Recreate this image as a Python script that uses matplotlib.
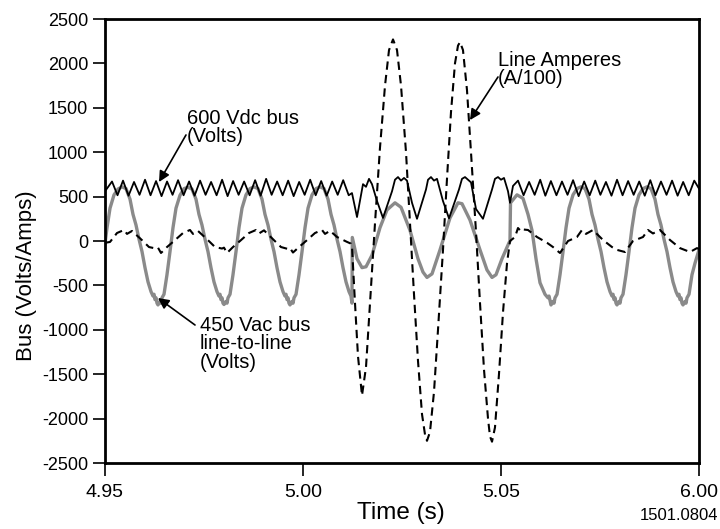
import matplotlib
matplotlib.use("Agg")
import matplotlib.pyplot as plt
import numpy as np

plt.rcParams['font.family'] = ['Liberation Sans', 'DejaVu Sans']

T0 = 4.95  # s, start of record; times below are ms after T0

# 600 Vdc bus (Volts)
dc_ms = [0.0, 1.77, 3.16, 4.55, 5.94, 7.33, 8.72, 10.11, 11.50, 12.89, 14.28, 15.67, 17.06, 18.45, 19.84,
         21.23, 22.62, 24.01, 25.40, 26.79, 28.18, 29.57, 30.96, 32.35, 33.74, 35.13, 36.52, 37.91, 39.30,
         40.69, 42.08, 43.47, 44.86, 46.25, 47.64, 49.03, 50.42, 51.81, 53.20, 54.59, 55.98, 57.37, 58.76,
         60.15, 61.54,
         62.37, 63.64, 65.15, 65.91, 66.67, 67.42, 68.69, 70.20, 72.48, 73.23, 73.99, 74.75, 75.51, 76.26,
         77.53, 78.79, 81.06, 81.57, 82.32, 83.08, 83.84, 85.35, 86.87, 89.39, 90.15, 90.91, 91.67, 92.42,
         93.69, 95.45, 97.73, 98.48, 99.24, 100.00, 100.76, 101.77, 102.27, 103.03,
         104.3, 105.7, 107.1, 108.5, 109.9, 111.2, 112.6, 114.0, 115.4, 116.8, 118.2, 119.6, 121.0, 122.4,
         123.8, 125.1, 126.5, 127.9, 129.3, 130.7, 132.1, 133.5, 134.9, 136.3, 137.7, 139.0, 140.4, 141.8,
         143.2, 144.6, 146.0, 147.4, 148.8, 150.0]
dc_v = [560, 670, 515, 680, 510, 665, 520, 690, 515, 675, 505, 670, 520, 685, 515,
        670, 510, 680, 520, 665, 515, 690, 505, 675, 520, 670, 515, 685, 510,
        700, 520, 670, 515, 680, 505, 665, 520, 690, 515, 675, 510, 670, 520,
        685, 515,
        540, 270, 640, 610, 700, 640, 450, 260, 560, 690, 720, 680, 710, 680,
        430, 250, 580, 690, 720, 680, 700, 450, 255, 580, 700, 720, 690, 660,
        360, 250, 580, 700, 720, 690, 710, 560, 430, 620,
        680, 515, 665, 520, 690, 510, 675, 515, 670, 520, 685, 505, 670, 515,
        680, 520, 665, 510, 690, 515, 675, 520, 670, 510, 685, 515, 670, 520,
        680, 510, 665, 515, 680, 590]

# 450 Vac bus line-to-line (Volts)
ac_ms = [0.00, 0.51, 1.27, 2.28, 3.29, 4.30, 5.31, 6.32, 7.07, 7.83, 8.59, 9.35, 10.10, 10.86, 11.62, 12.12,
         12.38, 12.63, 12.88, 13.13,
         13.38, 13.89, 14.14, 14.39, 14.90, 15.65, 16.41, 17.17, 17.93, 18.94, 19.95, 20.96, 21.97, 22.98,
         23.73, 24.49, 25.25, 26.01, 26.76, 27.52, 28.28, 28.78, 29.04, 29.29, 29.54, 29.79,
         30.05, 30.56, 30.81, 31.06, 31.57, 32.32, 33.08, 33.84, 34.60, 35.61, 36.62, 37.63, 38.64, 39.65,
         40.40, 41.16, 41.92, 42.68, 43.43, 44.19, 44.95, 45.45, 45.71, 45.96, 46.21, 46.46,
         46.72, 47.23, 47.48, 47.73, 48.24, 48.99, 49.75, 50.51, 51.27, 52.28, 53.29, 54.30, 55.31, 56.32,
         57.07, 57.83, 58.59, 59.35, 60.10, 60.86, 61.62, 62.12, 62.37,
         62.45, 63.64, 64.90, 65.91, 67.42, 69.44, 71.21, 73.23, 74.75, 77.02, 79.04, 80.30, 81.31, 82.58,
         84.60, 87.12, 89.14, 90.15, 92.17, 94.70, 96.46, 97.73, 98.74, 100.25, 102.02, 102.27, 102.40,
         104.04, 105.56, 106.82, 107.83, 108.84, 109.85, 111.11, 111.87, 112.12,
         112.63, 113.14, 113.39, 113.64, 114.15, 114.90, 115.66, 116.42, 117.18, 118.19, 119.20, 120.21,
         121.22, 122.23, 122.98, 123.74, 124.50, 125.26, 126.01, 126.77, 127.53, 128.03, 128.29, 128.54,
         128.79, 129.04,
         129.29, 129.80, 130.05, 130.30, 130.81, 131.56, 132.32, 133.08, 133.84, 134.85, 135.86, 136.87,
         137.88, 138.89, 139.64, 140.40, 141.16, 141.92, 142.67, 143.43, 144.19, 144.69, 144.95, 145.20,
         145.45, 145.70,
         145.96, 146.47, 146.72, 146.97, 147.48, 148.23, 148.99, 150.00]
ac_v = [-30, 150, 370, 520, 585, 610, 590, 470, 300, 180, 20, -120, -300, -460, -570, -620,
        -600, -660, -640, -700,
        -720, -680, -700, -640, -600, -380, -120, 150, 370, 515, 590, 605, 585, 470,
        300, 180, 20, -120, -300, -460, -570, -620, -600, -660, -640, -700,
        -715, -680, -700, -640, -600, -380, -120, 150, 370, 520, 590, 610, 590, 470,
        300, 180, 20, -120, -300, -460, -570, -620, -600, -660, -640, -700,
        -720, -680, -700, -640, -600, -380, -120, 150, 370, 520, 590, 610, 590, 470,
        300, 180, 20, -120, -300, -460, -570, -620, -700,
        40, -200, -300, -290, -160, 150, 350, 430, 380, 120, -200, -350, -410, -370,
        -100, 260, 430, 420, 236, -100, -326, -410, -380, -200, -20, 0, 430,
        520, 480, 300, 120, -200, -470, -600, -640, -620,
        -720, -680, -700, -640, -600, -380, -120, 150, 370, 520, 590, 610,
        590, 470, 300, 180, 20, -120, -300, -460, -570, -620, -600, -660,
        -640, -700,
        -720, -680, -700, -640, -600, -380, -120, 150, 370, 520, 590, 610,
        590, 470, 300, 180, 20, -120, -300, -460, -570, -620, -600, -660,
        -640, -700,
        -720, -680, -700, -640, -600, -380, -250, -100]

# Line Amperes (A/100)
ia_ms = [0.00, 1.26, 3.03, 4.80, 5.56, 6.82, 9.09, 11.11, 12.88, 13.38, 14.14, 15.66, 17.42,
         19.70, 21.46, 22.22, 23.48, 25.76, 27.78, 29.55, 30.05, 30.81, 32.32, 34.09,
         36.36, 38.13, 38.89, 40.15, 42.42, 44.44, 46.21, 46.72, 47.47, 48.99, 50.76,
         53.03, 54.80, 55.56, 56.82, 58.59, 61.11, 62.12,
         62.37, 63.13, 63.89, 64.90, 65.91, 66.92, 68.18, 69.44, 70.71, 71.72, 72.73, 73.74, 74.75, 76.01,
         77.02, 78.03, 79.04, 80.05, 80.81, 81.31, 82.07, 83.08, 84.09, 85.35, 86.36, 87.37, 88.38, 89.14,
         89.65, 90.40, 91.41, 92.42, 93.69, 94.70, 95.71, 96.72, 97.22, 97.73, 98.48, 99.49, 100.51,
         101.52, 102.27,
         103.54, 104.29, 105.05, 105.56, 106.82, 109.09, 111.62, 113.13, 114.90, 116.92, 119.19, 120.45,
         121.46, 123.23, 125.76, 128.03, 129.29, 131.31, 133.33, 135.86, 137.12, 138.38, 140.15, 142.68,
         145.20, 147.73, 149.49, 150.00]
ia_v = [-20, -11, 90, 124, 80, 113, 20, -68, -85, -75, -135, -68, 0,
        90, 124, 80, 113, 20, -68, -85, -75, -135, -68, 0,
        90, 124, 85, 120, 20, -68, -90, -80, -130, -68, 0,
        90, 124, 80, 115, 45, -10, -30,
        -60, -700, -1300, -1740, -1420, -700, 200, 1050, 1750, 2150, 2270, 2150, 1750, 1000,
        200, -600, -1350, -1950, -2180, -2250, -2150, -1700, -1000, -100, 700, 1450, 2000, 2200,
        2240, 2150, 1700, 1000, 100, -700, -1450, -2000, -2200, -2260, -2100, -1500, -800,
        -250, 0,
        45, 146, 110, 130, 124, 45, -20, -68, -135, 0, 45, 124,
        80, 124, 11, -68, -100, -124, 0, 45, 124, 85, 124, 11,
        -80, -124, -80, -90]

x_ticks = [4.95, 5.00, 5.05, 5.10]
x_ticklabels = ["4.95", "5.00", "5.05", "6.00"]
y_ticks = [-2500, -2000, -1500, -1000, -500, 0, 500, 1000, 1500, 2000, 2500]
y_ticklabels = [str(v) for v in y_ticks]

def tt(ms):
    return T0 + np.asarray(ms) / 1000.0

fig = plt.figure(figsize=(7.2, 5.29), dpi=100)
ax = fig.add_axes([105/720, 1 - 463/529, 594/720, 444/529])

ax.plot(tt(ac_ms), ac_v, color='#8a8a8a', lw=2.4, solid_joinstyle='round', zorder=2)
ax.plot(tt(dc_ms), dc_v, color='black', lw=1.3, zorder=3)
ax.plot(tt(ia_ms), ia_v, color='black', lw=1.5, linestyle=(0, (4, 2.5)), zorder=4)

ax.set_xlim(4.95, 5.10)
ax.set_ylim(-2500, 2500)
ax.set_xticks(x_ticks)
ax.set_xticklabels(x_ticklabels, fontsize=14)
ax.set_yticks(y_ticks)
ax.set_yticklabels(y_ticklabels, fontsize=13)
ax.tick_params(axis='x', direction='out', length=9, width=1.2, pad=6)
ax.tick_params(axis='y', direction='out', length=9, width=1.2, pad=3)
for s in ax.spines.values():
    s.set_linewidth(2.0)

fig.text(27/720, 1 - 276/529, 'Bus (Volts/Amps)', rotation=90, ha='center', va='center', fontsize=16)
fig.text(401/720, 1 - 513/529, 'Time (s)', ha='center', va='center', fontsize=17.5)
fig.text(718/720, 1 - 516/529, '1501.0804', ha='right', va='center', fontsize=12)

arrow = dict(arrowstyle='-|>', lw=1.2, color='black', mutation_scale=16, shrinkA=0, shrinkB=0)
ann_fs = 14.5
ax.text(4.97071, 1486, '600 Vdc bus\n(Volts)', ha='left', va='top', fontsize=ann_fs, linespacing=0.95)
ax.annotate('', xy=(4.96364, 664), xytext=(4.97045, 1194), arrowprops=arrow)
ax.text(5.04924, 2139, 'Line Amperes\n(A/100)', ha='left', va='top', fontsize=ann_fs, linespacing=0.95)
ax.annotate('', xy=(5.04217, 1362), xytext=(5.04924, 1847), arrowprops=arrow)
ax.text(4.97399, -845, '450 Vac bus\nline-to-line\n(Volts)', ha='left', va='top', fontsize=ann_fs, linespacing=0.95)
ax.annotate('', xy=(4.96338, -642), xytext=(4.97273, -946), arrowprops=arrow)

fig.savefig('out.png', dpi=100)
